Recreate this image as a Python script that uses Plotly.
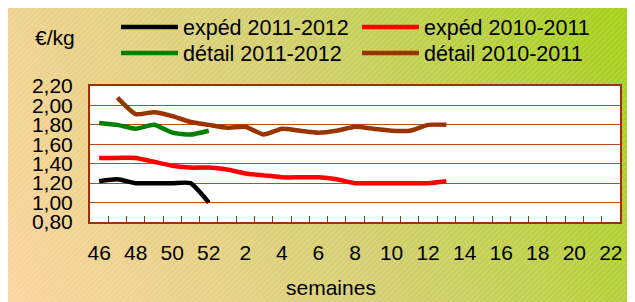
import base64
import plotly.graph_objects as go

weeks = ["46", "47", "48", "49", "50", "51", "52"] + [str(i) for i in range(1, 23)]
tick_text = [w if i % 2 == 0 else "" for i, w in enumerate(weeks)]

exped_2011_2012 = [1.22, 1.24, 1.20, 1.20, 1.20, 1.20, 1.00]
exped_2010_2011 = [1.46, 1.46, 1.46, 1.42, 1.38, 1.36, 1.36, 1.34, 1.30, 1.28, 1.26,
                   1.26, 1.26, 1.24, 1.20, 1.20, 1.20, 1.20, 1.20, 1.22]
detail_2011_2012 = [1.82, 1.80, 1.76, 1.80, 1.72, 1.70, 1.74]
detail_2010_2011 = [None, 2.08, 1.91, 1.93, 1.89, 1.83, 1.80, 1.77, 1.78, 1.70, 1.76,
                    1.74, 1.72, 1.74, 1.78, 1.76, 1.74, 1.74, 1.80, 1.80]

series = [
    ("expéd 2011-2012", exped_2011_2012, "#000000", "legend"),
    ("expéd 2010-2011", exped_2010_2011, "#ff0000", "legend"),
    ("détail 2011-2012", detail_2011_2012, "#008000", "legend2"),
    ("détail 2010-2011", detail_2010_2011, "#993300", "legend2"),
]

W, H = 635, 302
L, R, T, B = 82, 612, 78, 214
pw, ph = R - L, B - T

def px(x):
    return (x - L) / pw

def py(y):
    return (B - y) / ph

fig = go.Figure()
for name, vals, col, leg in series:
    fig.add_trace(go.Scatter(
        x=weeks[:len(vals)], y=vals, name=name, mode="lines", legend=leg,
        line=dict(color=col, width=4.5, shape="spline", smoothing=0.5),
        connectgaps=False,
    ))

svg = '''<svg xmlns="http://www.w3.org/2000/svg" width="635" height="302" viewBox="0 0 635 302">
<defs>
<linearGradient id="g" gradientUnits="userSpaceOnUse" x1="0" y1="294" x2="627" y2="0">
<stop offset="0" stop-color="#fdd49e"/>
<stop offset="0.5" stop-color="#d4cf70"/>
<stop offset="1" stop-color="#a2d016"/>
</linearGradient>
<pattern id="p" width="4" height="4" patternUnits="userSpaceOnUse" patternTransform="rotate(45)">
<rect x="0" y="0" width="1" height="4" fill="#ffffff" fill-opacity="0.18"/>
</pattern>
</defs>
<rect width="635" height="302" fill="url(#g)"/>
<rect width="635" height="302" fill="url(#p)"/>
</svg>'''
src = "data:image/svg+xml;base64," + base64.b64encode(svg.encode()).decode()

fig.add_layout_image(dict(
    source=src, xref="paper", yref="paper",
    x=px(0), y=py(0), sizex=W / pw, sizey=H / ph,
    xanchor="left", yanchor="top", sizing="stretch", layer="below",
))
fig.add_shape(type="rect", xref="paper", yref="paper", x0=0, y0=0, x1=1, y1=1,
              fillcolor="white", line=dict(width=0), layer="below")

brown = "#993300"
leg_common = dict(
    orientation="h", xanchor="left", yanchor="middle",
    entrywidth=169, entrywidthmode="pixels", itemwidth=57,
    bgcolor="rgba(0,0,0,0)", font=dict(size=21.5), traceorder="normal",
    itemclick=False,
)
fig.update_layout(
    width=W, height=H,
    margin=dict(l=L, r=W - R, t=T, b=H - B, autoexpand=False),
    paper_bgcolor="white", plot_bgcolor="white",
    separators=", ",
    font=dict(family="Liberation Sans, Arial, sans-serif", size=21, color="#000000"),
    showlegend=True,
    legend=dict(x=px(108), y=py(19), **leg_common),
    legend2=dict(x=px(108), y=py(45), **leg_common),
    xaxis=dict(
        type="category", categoryorder="array", categoryarray=weeks,
        range=[-0.5, len(weeks) - 0.5],
        tickmode="array", tickvals=weeks, ticktext=tick_text, tickangle=0,
        tickson="boundaries", ticks="inside", ticklen=6, tickwidth=1.3, tickcolor=brown,
        showgrid=False, showline=True, linecolor=brown, linewidth=2, mirror=True,
        ticklabelstandoff=11, tickfont=dict(size=21), zeroline=False,
    ),
    yaxis=dict(
        range=[0.8, 2.2], dtick=0.2, tick0=0.8, tickformat=".2f",
        showgrid=True, gridcolor="#b4501e", gridwidth=1,
        showline=True, linecolor=brown, linewidth=2, mirror=True,
        ticks="", ticklabelstandoff=11, tickfont=dict(size=21), zeroline=False,
    ),
    annotations=[
        dict(text="€/kg", xref="paper", yref="paper", x=px(25), y=py(30),
             xanchor="left", yanchor="middle", showarrow=False, font=dict(size=21)),
        dict(text="semaines", xref="paper", yref="paper", x=px(323), y=py(279),
             xanchor="center", yanchor="middle", showarrow=False, font=dict(size=21)),
    ],
)

fig.write_html("out.html")
